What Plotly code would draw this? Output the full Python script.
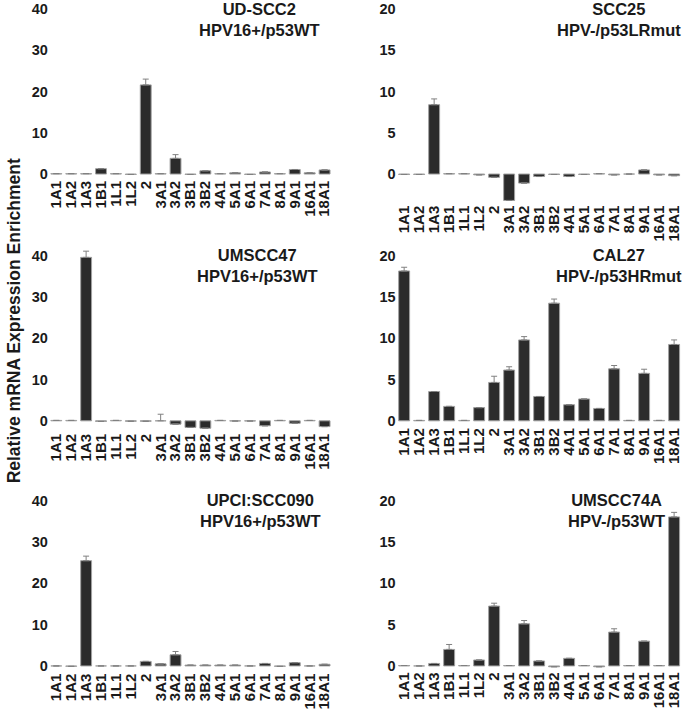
import plotly.graph_objects as go

categories = ["1A1", "1A2", "1A3", "1B1", "1L1", "1L2", "2", "3A1", "3A2", "3B1",
              "3B2", "4A1", "5A1", "6A1", "7A1", "8A1", "9A1", "16A1", "18A1"]

# UD-SCC2  HPV16+/p53WT
udscc2_vals = [0.1, 0.1, 0.1, 1.3, 0.1, -0.1, 21.6, 0.1, 3.8, -0.1,
               0.8, 0.1, 0.3, -0.1, 0.5, 0.1, 1.1, 0.3, 1.0]
udscc2_err = [None, None, None, None, None, None, 1.4, None, 0.9, None,
              None, None, None, None, None, None, None, None, None]

# SCC25  HPV-/p53LRmut
scc25_vals = [-0.05, -0.05, 8.4, 0.05, 0.05, -0.1, -0.4, -3.2, -1.1, -0.3,
              -0.05, -0.3, -0.05, 0.05, -0.1, 0.0, 0.5, -0.1, -0.2]
scc25_err = [None, None, 0.7, None, None, None, None, None, None, None,
             None, None, None, None, None, None, None, None, None]

# UMSCC47  HPV16+/p53WT
umscc47_vals = [0.1, 0.1, 39.6, -0.15, 0.1, -0.1, -0.1, 0.0, -0.8, -1.6,
                -1.8, 0.1, -0.05, -0.05, -1.2, 0.1, -0.6, 0.1, -1.4]
umscc47_err = [None, None, 1.5, None, None, None, None, 1.6, None, None,
               None, None, None, None, None, None, None, None, None]

# CAL27  HPV-/p53HRmut
cal27_vals = [18.15, 0.05, 3.55, 1.75, 0.05, 1.6, 4.65, 6.15, 9.8, 2.95,
              14.25, 1.95, 2.65, 1.5, 6.3, 0.05, 5.75, 0.05, 9.25]
cal27_err = [0.45, None, None, None, None, None, 0.75, 0.4, 0.4, None,
             0.5, None, None, None, 0.4, None, 0.5, None, 0.55]

# UPCI:SCC090  HPV16+/p53WT
upci_vals = [0.0, -0.1, 25.5, 0.0, 0.0, 0.0, 1.1, 0.5, 2.7, 0.2,
             0.2, 0.2, 0.2, 0.0, 0.6, -0.1, 0.8, 0.0, 0.4]
upci_err = [None, None, 1.1, None, None, None, None, None, 0.8, None,
            None, None, None, None, None, None, None, None, None]

# UMSCC74A  HPV-/p53WT
umscc74a_vals = [0.05, 0.0, 0.3, 2.0, 0.05, 0.72, 7.25, 0.05, 5.1, 0.6,
                 -0.1, 0.92, 0.05, -0.1, 4.1, 0.05, 3.0, 0.05, 18.05]
umscc74a_err = [None, None, None, 0.6, None, None, 0.35, None, 0.4, None,
                None, None, None, None, 0.4, None, None, None, 0.55]

panel_names = ["UD-SCC2", "SCC25", "UMSCC47", "CAL27", "UPCI:SCC090", "UMSCC74A"]
panel_status = ["HPV16+/p53WT", "HPV-/p53LRmut", "HPV16+/p53WT", "HPV-/p53HRmut",
                "HPV16+/p53WT", "HPV-/p53WT"]
left_ticks = [0, 10, 20, 30, 40]
right_ticks = [0, 5, 10, 15, 20]
y_title = "Relative mRNA Expression Enrichment"

series = [(udscc2_vals, udscc2_err), (scc25_vals, scc25_err),
          (umscc47_vals, umscc47_err), (cal27_vals, cal27_err),
          (upci_vals, upci_err), (umscc74a_vals, umscc74a_err)]

W, H = 685, 710
FONT = "Liberation Sans, Arial, Helvetica, sans-serif"
TXT = "#1a1a1a"
BAR = "#2b2b2b"

# layout geometry (pixels)
col_x = [(47, 331), (395.8, 681.6)]
row_zero = [174, 423.6, 671.5]
ppu = [167 / 40, 167 / 20]
lows = [[-0.7, -3.35], [-2.2, -0.4], [-0.9, -0.3]]
highs = [41.5, 20.8]
title_pos = [[(258, 17.7), (619, 17.7)], [(256, 267), (619, 267)], [(259, 514.5), (616, 514.5)]]

fig = go.Figure()
annotations = []
for i, (vals, err) in enumerate(series):
    r, c = divmod(i, 2)
    ax = "" if i == 0 else str(i + 1)
    plus = [e if e is not None else float("nan") for e in err]
    minus = [0 if e is not None else float("nan") for e in err]
    fig.add_trace(go.Bar(
        x=categories, y=vals, xaxis="x" + ax, yaxis="y" + ax,
        marker=dict(color=BAR, line=dict(color="#a0a0a0", width=1)),
        error_y=dict(type="data", symmetric=False, array=plus, arrayminus=minus,
                     color="#808080", thickness=1, width=3),
        showlegend=False, cliponaxis=False,
    ))
    lo, hi = lows[r][c], highs[c]
    z = row_zero[r]
    top_px = z - hi * ppu[c]
    bot_px = z - lo * ppu[c]
    ydom = [1 - bot_px / H, 1 - top_px / H]
    xdom = [col_x[c][0] / W, col_x[c][1] / W]
    ticks = left_ticks if c == 0 else right_ticks
    fig.layout["xaxis" + ax] = dict(
        domain=xdom, anchor="y" + ax, type="category", range=[-0.5, 18.5],
        tickmode="array", tickvals=categories, ticktext=categories,
        showgrid=False, zeroline=False, showline=False, ticks="",
        tickangle=-90, tickfont=dict(family=FONT, size=15, color=TXT, weight="bold"),
        fixedrange=True,
    )
    fig.layout["yaxis" + ax] = dict(
        domain=ydom, anchor="x" + ax, range=[lo, hi],
        tickvals=ticks, ticktext=[str(t) for t in ticks],
        showgrid=False, zeroline=False, showline=False, ticks="",
        tickfont=dict(family=FONT, size=14.5, color=TXT, weight="bold"),
        fixedrange=True,
    )
    tx, ty = title_pos[r][c]
    annotations.append(dict(
        text=panel_names[i] + "<br>" + panel_status[i],
        x=tx / W, y=1 - ty / H, xref="paper", yref="paper",
        xanchor="center", yanchor="middle", showarrow=False, align="center",
        font=dict(family=FONT, size=16.5, color=TXT, weight="bold"),
    ))

annotations.append(dict(
    text=y_title, x=0, y=1 - 323 / H, xref="paper", yref="paper",
    xanchor="left", yanchor="middle", showarrow=False, textangle=-90,
    font=dict(family=FONT, size=17.5, color=TXT, weight="bold"),
))

fig.update_layout(
    width=W, height=H, margin=dict(l=0, r=0, t=0, b=0),
    paper_bgcolor="white", plot_bgcolor="white",
    bargap=0.27, annotations=annotations,
)

page_fix = (
    "document.documentElement.style.margin='0';"
    "document.body.style.margin='0';"
    "document.body.style.overflow='hidden';"
    "var gd=document.getElementsByClassName('plotly-graph-div')[0];"
    "gd.style.position='absolute';gd.style.left='0px';gd.style.top='0px';"
)

fig.write_html("out.html", config={"displayModeBar": False}, post_script=page_fix)
